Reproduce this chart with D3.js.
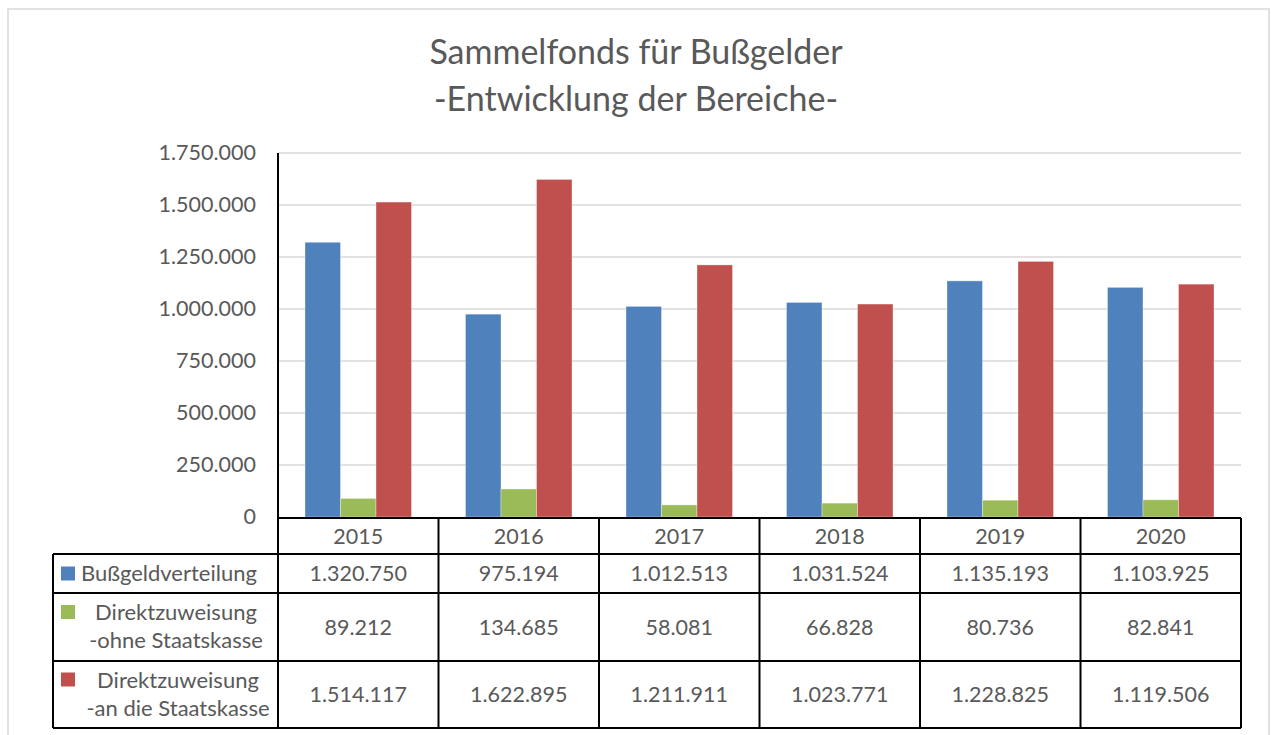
<!DOCTYPE html>
<meta charset="utf-8" />
<style>
  body {
    margin: 0;
    background: #fff;
  }
  text {
    font-family: Lato, "Open Sans", sans-serif;
    fill: #595959;
  }
</style>
<body>
  <script src="https://d3js.org/d3.v7.min.js"></script>
  <script>
    // chart data
    var years = ["2015", "2016", "2017", "2018", "2019", "2020"];
    var seriesNames = ["Bußgeldverteilung", "Direktzuweisung -ohne Staatskasse", "Direktzuweisung -an die Staatskasse"];
    var seriesLabels = [
      ["Bußgeldverteilung"],
      ["Direktzuweisung", "-ohne Staatskasse"],
      ["Direktzuweisung", "-an die Staatskasse"]
    ];
    var bussgeld = [1320750, 975194, 1012513, 1031524, 1135193, 1103925];
    var ohneStaatskasse = [89212, 134685, 58081, 66828, 80736, 82841];
    var anStaatskasse = [1514117, 1622895, 1211911, 1023771, 1228825, 1119506];
    var yTicks = [0, 250000, 500000, 750000, 1000000, 1250000, 1500000, 1750000];
    var colors = ["#4f81bd", "#9bbb59", "#c0504d"];
    var titleLines = ["Sammelfonds für Bußgelder", "-Entwicklung der Bereiche-"];

    var seriesValues = [bussgeld, ohneStaatskasse, anStaatskasse];

    // layout
    var W = 1271, H = 735;
    var plotLeft = 278, plotRight = 1241, plotTop = 153, plotBottom = 517;
    var tableLeft = 53;
    var rowEdges = [518, 554, 593, 661, 728];
    var fontSize = "21.5px";

    var de = d3.formatLocale({ decimal: ",", thousands: ".", grouping: [3], currency: ["", " €"] });
    var fmt = de.format(",d");

    var svg = d3.select("body").append("svg").attr("width", W).attr("height", H);

    // outer chart frame
    svg.append("rect")
      .attr("x", 8).attr("y", 9)
      .attr("width", 1261).attr("height", 740)
      .attr("fill", "#fff")
      .attr("stroke", "#d9d9d9")
      .attr("stroke-width", 1.5);

    // title
    svg.append("g").selectAll("text")
      .data(titleLines)
      .enter().append("text")
      .attr("x", 636)
      .attr("y", function (d, i) { return 64 + i * 47; })
      .attr("text-anchor", "middle")
      .style("font-size", "34px")
      .text(function (d) { return d; });

    // scales
    var x0 = d3.scaleBand().domain(years).range([plotLeft, plotRight]).padding(0);
    var x1 = d3.scaleBand().domain(d3.range(seriesNames.length)).range([0, x0.bandwidth()])
      .paddingInner(0).paddingOuter(0.76);
    var y = d3.scaleLinear().domain([0, 1750000]).range([plotBottom, plotTop]);

    // gridlines
    svg.append("g").selectAll("line")
      .data(yTicks.filter(function (d) { return d > 0; }))
      .enter().append("line")
      .attr("x1", plotLeft).attr("x2", plotRight)
      .attr("y1", function (d) { return y(d); })
      .attr("y2", function (d) { return y(d); })
      .attr("stroke", "#d9d9d9")
      .attr("stroke-width", 1.5);

    // y axis labels
    var yAxis = svg.append("g")
      .attr("transform", "translate(" + plotLeft + ",0)")
      .call(d3.axisLeft(y).tickValues(yTicks).tickSize(0).tickPadding(22).tickFormat(fmt));
    yAxis.select(".domain").remove();
    yAxis.selectAll("text")
      .attr("fill", "#595959")
      .style("font-family", "Lato, 'Open Sans', sans-serif")
      .style("font-size", fontSize);

    // bars
    svg.append("g").selectAll("g")
      .data(years)
      .enter().append("g")
      .attr("transform", function (d) { return "translate(" + x0(d) + ",0)"; })
      .selectAll("rect")
      .data(function (d, i) {
        return seriesValues.map(function (s, k) { return { k: k, v: s[i] }; });
      })
      .enter().append("rect")
      .attr("x", function (d) { return x1(d.k); })
      .attr("width", x1.bandwidth())
      .attr("y", function (d) { return y(d.v); })
      .attr("height", function (d) { return y(0) - y(d.v); })
      .attr("fill", function (d) { return colors[d.k]; })
      .attr("stroke", "#fff")
      .attr("stroke-opacity", 0.35)
      .attr("stroke-width", 1);

    // data table lines
    var lines = svg.append("g").attr("stroke", "#000").attr("stroke-width", 2);
    // value axis line
    lines.append("line").attr("x1", plotLeft).attr("x2", plotLeft).attr("y1", plotTop).attr("y2", rowEdges[4]);
    // header row top
    lines.append("line").attr("x1", plotLeft).attr("x2", plotRight).attr("y1", rowEdges[0]).attr("y2", rowEdges[0]);
    // other horizontal rules
    rowEdges.slice(1).forEach(function (r) {
      lines.append("line").attr("x1", tableLeft).attr("x2", plotRight).attr("y1", r).attr("y2", r);
    });
    lines.append("line").attr("x1", tableLeft).attr("x2", tableLeft).attr("y1", rowEdges[1]).attr("y2", rowEdges[4]);
    years.forEach(function (yr) {
      lines.append("line")
        .attr("x1", x0(yr) + x0.bandwidth()).attr("x2", x0(yr) + x0.bandwidth())
        .attr("y1", rowEdges[0]).attr("y2", rowEdges[4]);
    });

    // header: years
    svg.append("g").selectAll("text")
      .data(years)
      .enter().append("text")
      .attr("x", function (d) { return x0(d) + x0.bandwidth() / 2; })
      .attr("y", (rowEdges[0] + rowEdges[1]) / 2 + 7.5)
      .attr("text-anchor", "middle")
      .style("font-size", fontSize)
      .text(function (d) { return d; });

    // table rows
    seriesValues.forEach(function (s, k) {
      var mid = (rowEdges[k + 1] + rowEdges[k + 2]) / 2;
      var row = svg.append("g");
      row.selectAll("text")
        .data(s)
        .enter().append("text")
        .attr("x", function (d, i) { return x0(years[i]) + x0.bandwidth() / 2; })
        .attr("y", mid + 7.5)
        .attr("text-anchor", "middle")
        .style("font-size", fontSize)
        .text(function (d) { return fmt(d); });

      // legend key
      var lab = seriesLabels[k];
      var keyY = lab.length > 1 ? mid - 22 : mid - 7;
      row.append("rect")
        .attr("x", 61).attr("y", keyY)
        .attr("width", 14).attr("height", 14)
        .attr("fill", colors[k]);

      if (lab.length === 1) {
        row.append("text")
          .attr("x", 81).attr("y", mid + 7.5)
          .style("font-size", "22px")
          .text(lab[0]);
      } else {
        row.selectAll(".lab")
          .data(lab)
          .enter().append("text")
          .attr("class", "lab")
          .attr("x", 174 + k * 2)
          .attr("y", function (d, i) { return mid - 7 + i * 28; })
          .attr("text-anchor", "middle")
          .style("font-size", "22px")
          .text(function (d) { return d; });
      }
    });
  </script>
</body>
